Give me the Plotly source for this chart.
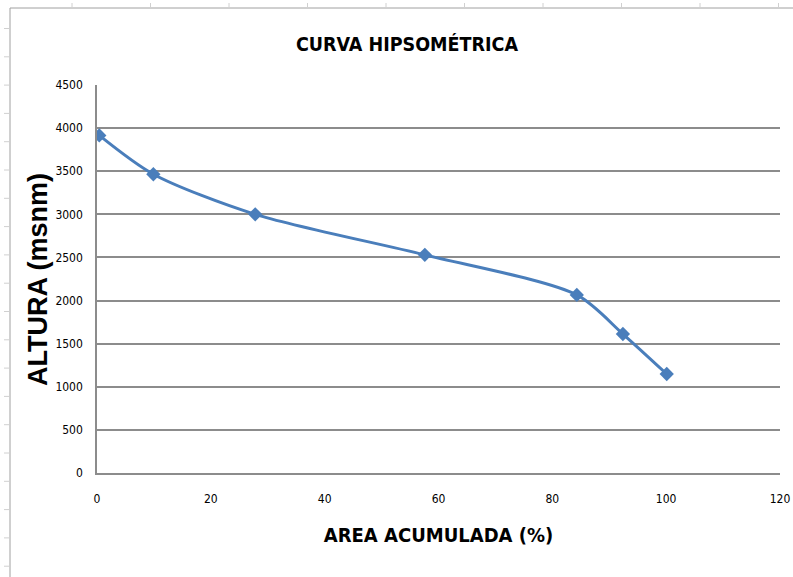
import plotly.graph_objects as go

area_acumulada = [0.4, 9.9, 27.8, 57.6, 84.3, 92.4, 100.1]
altura = [3915, 3465, 3000, 2530, 2065, 1612, 1148]
x_ticks = [0, 20, 40, 60, 80, 100, 120]
y_ticks = [0, 500, 1000, 1500, 2000, 2500, 3000, 3500, 4000, 4500]

W, H = 793, 577
L, R, T, B = 97, 780, 85, 473  # plot area in pixels


def px_x(p):
    return (p - L) / (R - L)


def px_y(p):
    return (B - p) / (B - T)


fig = go.Figure()
fig.add_trace(go.Scatter(
    x=area_acumulada, y=altura, mode="lines+markers",
    line=dict(color="#4a7ebb", width=3, shape="spline", smoothing=0.8),
    marker=dict(symbol="diamond", size=11, color="#4a7ebb"),
    showlegend=False,
))

shapes = []
shapes.append(dict(type="line", xref="paper", yref="paper",
                   x0=px_x(10), x1=px_x(793), y0=px_y(8), y1=px_y(8),
                   line=dict(color="#a0a0a0", width=1)))
shapes.append(dict(type="line", xref="paper", yref="paper",
                   x0=px_x(10), x1=px_x(10), y0=px_y(8), y1=px_y(577),
                   line=dict(color="#a0a0a0", width=1)))
for k in range(10):
    xp = 72 + k * 78.5
    if xp < 793:
        shapes.append(dict(type="line", xref="paper", yref="paper",
                           x0=px_x(xp), x1=px_x(xp), y0=px_y(3), y1=px_y(8),
                           line=dict(color="#d0d0d0", width=1)))
for k in range(20):
    yp = 28.5 + k * 28.3
    if yp < 577:
        shapes.append(dict(type="line", xref="paper", yref="paper",
                           x0=px_x(4), x1=px_x(10), y0=px_y(yp), y1=px_y(yp),
                           line=dict(color="#d0d0d0", width=1)))

COND = "DejaVu Sans Condensed, Liberation Sans, sans-serif"

fig.update_layout(
    width=W, height=H,
    margin=dict(l=L, r=W - R, t=T, b=H - B, autoexpand=False),
    paper_bgcolor="white", plot_bgcolor="white",
    title=dict(text="<b>CURVA HIPSOMÉTRICA</b>", x=407 / W, xanchor="center",
               y=1 - 44 / H, yanchor="middle",
               font=dict(family=COND, size=19.5, color="black")),
    shapes=shapes,
    annotations=[dict(text="<b>ALTURA (msnm)</b>", xref="paper", yref="paper",
                      x=px_x(38), y=px_y(280), xanchor="center", yanchor="middle",
                      textangle=-90, showarrow=False,
                      font=dict(family="Liberation Sans, Arial, sans-serif",
                                size=27, color="black"))],
    xaxis=dict(range=[0, 120], tickvals=x_ticks, ticktext=[str(v) for v in x_ticks],
               showgrid=False, zeroline=False, showline=True, linecolor="#8c8c8c",
               linewidth=1.5, ticks="", ticklabelstandoff=14, automargin=False,
               tickfont=dict(family=COND, size=12, color="black"),
               title=dict(text="<b>AREA ACUMULADA (%)</b>", standoff=23,
                          font=dict(family=COND, size=20, color="black"))),
    yaxis=dict(range=[0, 4500], tickvals=y_ticks, ticktext=[str(v) for v in y_ticks],
               showgrid=True, gridcolor="#8c8c8c", gridwidth=1.5,
               zeroline=False, showline=True, linecolor="#8c8c8c", linewidth=1.5,
               ticks="", ticklabelstandoff=10, automargin=False,
               tickfont=dict(family=COND, size=12, color="black")),
)

fig.write_html("out.html", config={"displayModeBar": False},
               post_script="document.body.style.margin='0';")
